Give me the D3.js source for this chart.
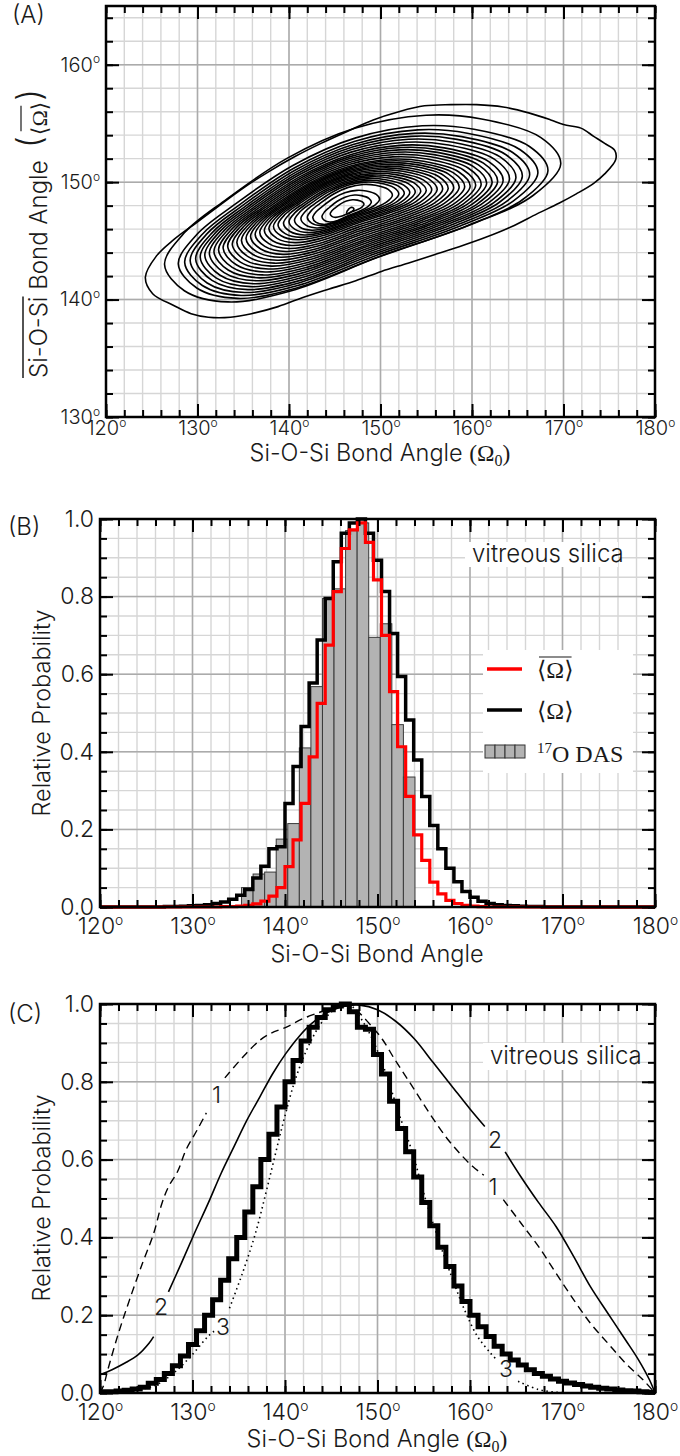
<!DOCTYPE html>
<html>
<head>
<meta charset="utf-8">
<script src="https://cdn.jsdelivr.net/npm/d3@7/dist/d3.min.js"></script>
<style>
  body { margin: 0; background: #fff; }
  svg text { font-family: Inter, 'Liberation Sans', sans-serif; font-weight: 300; fill: #1a1a1a; }
  svg .serif { font-family: 'Liberation Serif', 'DejaVu Serif', serif; font-weight: 400; }
</style>
</head>
<body>
<svg id="chart" width="680" height="1456"></svg>
<script>
'use strict';
// ---- values ----
const angleTicks = [120, 130, 140, 150, 160, 170, 180]
const angleMinorTicks = d3.range(120, 181, 2)
const bondTicks = [130, 140, 150, 160]
const bondMinorTicks = d3.range(130, 165, 2)
const probTicks = [0, 0.2, 0.4, 0.6, 0.8, 1.0]
const probMinorTicks = d3.range(0, 1.001, 0.05)

// panel A: outermost contour, [Omega0, mean Omega] in degrees
const outerContour = [[124.3,141.9],[125.1,140.5],[127.4,139.5],[129.3,138.8],[131.2,138.5],[133.6,138.5],
  [135.9,138.8],[138.8,139.4],[141.6,140.2],[144.4,140.9],[147.3,141.6],[150.1,142.4],[153.0,143.1],
  [155.8,143.8],[158.6,144.5],[161.5,145.3],[164.3,146.2],[167.1,147.3],[169.5,148.2],[171.4,149.0],
  [173.3,149.9],[174.5,150.7],[175.7,151.9],[175.6,152.7],[174.5,153.3],[173.3,153.9],[171.9,154.6],
  [170.0,154.9],[168.6,155.3],[166.2,155.9],[163.4,156.4],[160.5,156.6],[157.7,156.6],[154.8,156.5],
  [152.0,156.0],[149.2,155.3],[146.3,154.3],[143.5,153.3],[140.7,152.2],[137.8,150.9],[135.0,149.5],
  [132.2,147.9],[129.8,146.5],[127.4,145.1],[125.5,143.7]]
// inner contours: [left, right, bottom, top] extents, outer -> inner
const ringExtents = [
  [126.4,169.7,139.8,155.7],[127.9,168.3,140.1,154.8],[128.6,167.2,140.35,154.45],[129.2,166.3,140.6,154.15],
  [129.8,165.5,140.85,153.9],[130.3,164.8,141.1,153.65],[130.8,164.1,141.35,153.4],[131.3,163.4,141.6,153.15],
  [131.8,162.8,141.85,152.95],[132.3,162.2,142.1,152.75],[132.8,161.6,142.35,152.55],[133.3,161.0,142.6,152.35],
  [133.8,160.4,142.85,152.15],[134.3,159.8,143.1,151.95],[134.8,159.2,143.35,151.8],[135.3,158.6,143.6,151.65],
  [135.8,158.0,143.85,151.5],[136.3,157.4,144.1,151.35],[136.8,156.8,144.35,151.2],[137.3,156.2,144.6,151.05],
  [137.8,155.6,144.85,150.9],[138.3,155.0,145.1,150.75],[138.8,154.4,145.3,150.6],[139.4,153.8,145.5,150.45],
  [140.0,153.2,145.7,150.3],[140.6,152.6,145.9,150.15],[141.3,152.0,146.1,150.0],[142.0,151.3,146.3,149.8],
  [142.6,149.9,146.4,149.3],[143.6,149.0,146.6,148.9],[144.5,148.2,147.0,148.5],[146.3,147.1,147.3,147.85]]
// common contour outline, as fractions of each ring's extents
const ringShape = [[0,0.2],[0.05,0.06],[0.16,0],[0.32,0.06],[0.54,0.24],[0.78,0.42],[0.93,0.57],[1,0.74],
  [0.95,0.88],[0.8,0.98],[0.66,1],[0.48,0.93],[0.31,0.77],[0.15,0.54],[0.05,0.37]]

// panels B and C: 69 equal bins spanning 120-180 deg
const meanOmegaBar = [0,0,0,0,0,0,0,0,0,0,0,0,0,0,0,0.001,0.001,0.002,0.004,0.008,0.015,0.028,0.05,0.104,
  0.173,0.267,0.387,0.525,0.675,0.813,0.924,0.972,0.99,0.94,0.843,0.70,0.555,0.413,0.285,0.186,0.12,0.064,
  0.034,0.017,0.009,0.004,0.002,0.001,0,0,0,0,0,0,0,0,0,0,0,0,0,0,0,0,0,0,0,0,0]
const meanOmega = [0,0,0,0,0,0,0,0,0.001,0.001,0.002,0.003,0.004,0.006,0.009,0.013,0.02,0.03,0.045,0.075,
  0.105,0.15,0.155,0.267,0.362,0.465,0.577,0.688,0.795,0.89,0.963,0.99,1.0,0.963,0.894,0.813,0.705,0.594,
  0.482,0.379,0.285,0.21,0.15,0.1,0.065,0.04,0.025,0.015,0.009,0.006,0.004,0.003,0.002,0.001,0.001,
  0,0,0,0,0,0,0,0,0,0,0,0,0,0]
const dasEdges = [135.3,136.55,137.8,139.05,140.3,141.55,142.8,144.05,145.3,146.55,147.8,149.05,150.3,151.55,152.8,154.05]
const dasValues = [0.05,0.085,0.09,0.175,0.215,0.41,0.568,0.795,0.82,0.97,0.99,0.695,0.73,0.47,0.335]
const omega0 = [0.003,0.003,0.005,0.007,0.01,0.015,0.025,0.035,0.05,0.07,0.095,0.125,0.16,0.2,0.24,0.29,
  0.345,0.4,0.465,0.53,0.6,0.665,0.735,0.8,0.855,0.905,0.94,0.965,0.985,0.995,1.0,0.98,0.94,0.935,0.87,
  0.82,0.75,0.68,0.62,0.555,0.49,0.43,0.375,0.325,0.275,0.235,0.2,0.17,0.145,0.12,0.1,0.085,0.072,0.06,
  0.05,0.043,0.036,0.03,0.026,0.022,0.018,0.015,0.012,0.01,0.008,0.006,0.005,0.003,0.002]

// panel C model curves, null = gap left for the curve label
const curve1 = [[120,0],[120.4,0.02],[120.85,0.06],[122.0,0.154],[123.2,0.24],[124.6,0.334],[125.8,0.41],
  [126.7,0.488],[127.4,0.53],[128.4,0.57],[129.3,0.625],[130.5,0.676],[131.5,0.72],null,[133.5,0.81],
  [135.5,0.865],[137.3,0.907],[138.5,0.925],[140.1,0.94],[142,0.963],[143.9,0.98],[145.3,0.993],[146.2,0.997],
  [147.6,0.985],[149.1,0.95],[150.5,0.91],[151.9,0.856],[153.3,0.805],[154.7,0.753],[156.1,0.702],
  [157.5,0.655],[158.9,0.616],[160.3,0.582],[161.5,0.56],null,[163.6,0.497],[165.5,0.437],[167.4,0.377],
  [169.3,0.308],[171.2,0.24],[173.0,0.18],[174.9,0.128],[176.8,0.077],[178.7,0.034],[180,0]]
const curve2 = [[120,0.047],[121.3,0.06],[122.7,0.077],[124.1,0.098],[125.3,0.128],[125.8,0.145],null,
  [127.4,0.26],[128.8,0.334],[130.2,0.41],[131.7,0.488],[133.1,0.565],[134.5,0.634],[135.9,0.702],
  [137.3,0.762],[138.7,0.822],[140.1,0.873],[141.5,0.916],[142.9,0.95],[144.4,0.976],[146.2,0.993],
  [148.1,0.997],[150,0.985],[152,0.955],[154,0.91],[156,0.85],[158,0.79],[160,0.73],[161.6,0.685],null,
  [163.8,0.62],[165.5,0.556],[167.4,0.49],[169.3,0.428],[171.2,0.351],[173,0.274],[174.9,0.205],
  [176.8,0.137],[178.2,0.086],[179.4,0.034],[180,0]]
const curve3 = [[120,0],[122,0.001],[123.2,0.004],[126,0.02],[127.9,0.05],[129.8,0.094],[131.7,0.146],
  [132.4,0.16],null,[134.0,0.218],[135.4,0.308],[136.8,0.41],[138.2,0.54],[139.7,0.685],[141.1,0.805],
  [142.5,0.89],[143.9,0.95],[145.3,0.985],[146.5,1.0],[147.2,0.995],[148.1,0.967],[149.5,0.907],
  [150.9,0.822],[152.3,0.719],[153.8,0.616],[155.2,0.497],[156.6,0.394],[158,0.3],[159.4,0.214],
  [160.8,0.146],[162.2,0.103],[162.9,0.085],null,[165.2,0.03],[167.4,0.009],[169.3,0.002],[171.2,0],[173,0]]
const curveLabels = [
  { text: '1', a: 132.6, p: 0.745 }, { text: '2', a: 126.6, p: 0.2 }, { text: '3', a: 133.3, p: 0.15 },
  { text: '1', a: 162.5, p: 0.51 }, { text: '2', a: 162.7, p: 0.63 }, { text: '3', a: 163.9, p: 0.04 }]

// ---- layout ----
const svg = d3.select('#chart')
const xA = d3.scaleLinear().domain([120, 180]).range([106, 655])
const yA = d3.scaleLinear().domain([130, 165]).range([417, 6])
const xB = d3.scaleLinear().domain([120, 180]).range([100, 655])
const yB = d3.scaleLinear().domain([0, 1]).range([907, 519])
const xC = d3.scaleLinear().domain([120, 180]).range([100, 655])
const yC = d3.scaleLinear().domain([0, 1]).range([1393, 1004])

function drawGrid(x, y, xMinor, xMajor, yMinor, yMajor) {
  const g = svg.append('g')
  const [x0, x1] = x.range(), [y0, y1] = y.range()
  const vline = (data, color, w) => g.append('g').selectAll('line').data(data).join('line')
    .attr('x1', d => x(d)).attr('x2', d => x(d)).attr('y1', y0).attr('y2', y1)
    .attr('stroke', color).attr('stroke-width', w)
  const hline = (data, color, w) => g.append('g').selectAll('line').data(data).join('line')
    .attr('y1', d => y(d)).attr('y2', d => y(d)).attr('x1', x0).attr('x2', x1)
    .attr('stroke', color).attr('stroke-width', w)
  vline(xMinor, '#d6d6d6', 1.4)
  hline(yMinor, '#d6d6d6', 1.4)
  vline(xMajor, '#ababab', 1.5)
  hline(yMajor, '#ababab', 1.5)
}

function addDegree(sel, fs) {
  sel.selectAll('.tick text').append('tspan')
    .attr('dy', -0.42 * fs).attr('font-size', fs * 0.6).text('o')
}

function drawAxes(x, y, xMinor, xMajor, yMinor, yMajor, fs, yFormat, yDeg, padBottom) {
  const [x0, x1] = x.range(), [y0, y1] = y.range()
  const g = svg.append('g')
  const style = a => a.call(s => s.select('.domain').remove())
    .call(s => s.selectAll('line').attr('stroke', '#000').attr('stroke-width', 2))
    .attr('font-size', fs).attr('font-family', null)
  g.append('g').attr('transform', `translate(0,${y0})`).call(d3.axisBottom(x).tickValues(xMinor).tickSize(-7).tickFormat('')).call(style)
  g.append('g').attr('transform', `translate(0,${y1})`).call(d3.axisTop(x).tickValues(xMinor).tickSize(-7).tickFormat('')).call(style)
  g.append('g').attr('transform', `translate(0,${y1})`).call(d3.axisTop(x).tickValues(xMajor).tickSize(-13).tickFormat('')).call(style)
  g.append('g').attr('transform', `translate(${x0},0)`).call(d3.axisLeft(y).tickValues(yMinor).tickSize(-7).tickFormat('')).call(style)
  g.append('g').attr('transform', `translate(${x1},0)`).call(d3.axisRight(y).tickValues(yMinor).tickSize(-7).tickFormat('')).call(style)
  g.append('g').attr('transform', `translate(${x1},0)`).call(d3.axisRight(y).tickValues(yMajor).tickSize(-13).tickFormat('')).call(style)
  const bottom = g.append('g').attr('transform', `translate(0,${y0})`)
    .call(d3.axisBottom(x).tickValues(xMajor).tickSize(-13).tickPadding(padBottom).tickFormat(d => d)).call(style)
  addDegree(bottom, fs)
  const left = g.append('g').attr('transform', `translate(${x0},0)`)
    .call(d3.axisLeft(y).tickValues(yMajor).tickSize(-13).tickPadding(6).tickFormat(yFormat)).call(style)
  if (yDeg) addDegree(left, fs)
  g.selectAll('.tick text').attr('fill', '#1a1a1a')
  g.append('rect').attr('x', x0).attr('y', y1).attr('width', x1 - x0).attr('height', y0 - y1)
    .attr('fill', 'none').attr('stroke', '#000').attr('stroke-width', 2.5)
}

function omegaTitle(x, y, fs, text, sub) {
  const t = svg.append('text').attr('x', x).attr('y', y).attr('text-anchor', 'middle').attr('font-size', fs)
  t.append('tspan').text(text)
  if (sub) {
    t.append('tspan').attr('class', 'serif').text('(\u03a9')
    t.append('tspan').attr('class', 'serif').attr('font-size', fs * 0.68).attr('dy', 5).text('0')
    t.append('tspan').attr('class', 'serif').attr('dy', -5).text(')')
  }
}

function panelLabel(text, x, y) {
  svg.append('text').attr('x', x).attr('y', y).attr('font-size', 24).text(text)
}

function yTitle(text, x, cy, fs) {
  svg.append('text').attr('transform', `translate(${x},${cy}) rotate(-90)`)
    .attr('text-anchor', 'middle').attr('font-size', fs).text(text)
}

function boxedLabel(text, x, y, box) {
  svg.append('rect').attr('x', box[0]).attr('y', box[1]).attr('width', box[2]).attr('height', box[3]).attr('fill', '#fff')
  svg.append('text').attr('x', x).attr('y', y).attr('font-size', 24).text(text)
}

// ---- panel A: contour map ----
drawGrid(xA, yA, angleMinorTicks, angleTicks, bondMinorTicks, bondTicks)
const contourLine = d3.line().x(d => xA(d[0])).y(d => yA(d[1])).curve(d3.curveCatmullRomClosed)
const contours = svg.append('g').attr('fill', 'none').attr('stroke', '#000').attr('stroke-width', 1.6)
contours.append('path').attr('d', contourLine(outerContour))
ringExtents.forEach(([l, r, b, t]) => {
  const su = d3.scaleLinear().domain([0, 1]).range([l, r])
  const sv = d3.scaleLinear().domain([0, 1]).range([b, t])
  contours.append('path').attr('d', contourLine(ringShape.map(([u, v]) => [su(u), sv(v)])))
})
drawAxes(xA, yA, angleMinorTicks, angleTicks, bondMinorTicks, bondTicks, 20, d => d, true, 4)
panelLabel('(A)', 12, 23)
omegaTitle(380, 461, 23.5, 'Si-O-Si Bond Angle ', true)

// rotated y title with overlines
const yt = svg.append('g').attr('transform', 'translate(47,378) rotate(-90)')
const ytText = yt.append('text').attr('font-size', 24).text('Si-O-Si Bond Angle')
const siLen = ytText.node().getSubStringLength(0, 7)
yt.append('line').attr('x1', 0).attr('x2', siLen).attr('y1', -24).attr('y2', -24).attr('stroke', '#1a1a1a').attr('stroke-width', 1.5)
const par = yt.append('g').attr('transform', 'translate(230,0)')
const p1 = par.append('text').attr('font-size', 34).attr('y', -6).text('(')
const w1 = p1.node().getComputedTextLength()
const om = par.append('text').attr('class', 'serif').attr('font-size', 22).attr('x', w1 + 1).text('\u27e8\u03a9\u27e9')
const wOm = om.node().getComputedTextLength()
par.append('line').attr('x1', w1 + 5).attr('x2', w1 + wOm - 3).attr('y1', -26).attr('y2', -26).attr('stroke', '#1a1a1a').attr('stroke-width', 1.2)
par.append('text').attr('font-size', 34).attr('y', -6).attr('x', w1 + wOm + 2).text(')')

// ---- panel B: histograms ----
const bins = d3.scaleLinear().domain([0, 69]).range([120, 180])
const stepData = values => values.map((v, i) => [bins(i), v]).concat([[180, values[values.length - 1]]])
drawGrid(xB, yB, angleMinorTicks, angleTicks, probMinorTicks, probTicks)
svg.append('g').selectAll('rect').data(dasValues).join('rect')
  .attr('x', (d, i) => xB(dasEdges[i])).attr('width', (d, i) => xB(dasEdges[i + 1]) - xB(dasEdges[i]))
  .attr('y', d => yB(d)).attr('height', d => yB(0) - yB(d))
  .attr('fill', '#b3b3b3').attr('stroke', '#3a3a3a').attr('stroke-width', 1)
const stepB = d3.line().x(d => xB(d[0])).y(d => yB(d[1])).curve(d3.curveStepAfter)
svg.append('path').attr('d', stepB(stepData(meanOmega))).attr('fill', 'none').attr('stroke', '#000').attr('stroke-width', 3.5)
svg.append('path').attr('d', stepB(stepData(meanOmegaBar))).attr('fill', 'none').attr('stroke', '#ff0000').attr('stroke-width', 3.2)
drawAxes(xB, yB, angleMinorTicks, angleTicks, probMinorTicks, probTicks, 23, d3.format('.1f'), false, 11)
panelLabel('(B)', 8, 535)
omegaTitle(377, 962, 23.5, 'Si-O-Si Bond Angle', false)
yTitle('Relative Probability', 50, 713, 23.5)
boxedLabel('vitreous silica', 472, 562, [465, 542, 153, 25])

// legend
const lg = svg.append('g')
lg.append('rect').attr('x', 483).attr('y', 650).attr('width', 150).attr('height', 123).attr('fill', '#fff')
lg.append('line').attr('x1', 487).attr('x2', 522).attr('y1', 669).attr('y2', 669).attr('stroke', '#ff0000').attr('stroke-width', 3.5)
lg.append('line').attr('x1', 487).attr('x2', 522).attr('y1', 710).attr('y2', 710).attr('stroke', '#000').attr('stroke-width', 3.5)
const sw = lg.append('g')
d3.range(4).forEach(i => sw.append('rect').attr('x', 485 + i * 10).attr('y', 745).attr('width', 10).attr('height', 13)
  .attr('fill', '#b3b3b3').attr('stroke', '#333').attr('stroke-width', 1))
const l1 = lg.append('text').attr('class', 'serif').attr('x', 537).attr('y', 678).attr('font-size', 24).text('\u27e8\u03a9\u27e9')
const l1w = l1.node().getComputedTextLength()
lg.append('line').attr('x1', 539).attr('x2', 537 + l1w - 2).attr('y1', 657).attr('y2', 657).attr('stroke', '#1a1a1a').attr('stroke-width', 1.2)
lg.append('text').attr('class', 'serif').attr('x', 537).attr('y', 719).attr('font-size', 24).text('\u27e8\u03a9\u27e9')
const l3 = lg.append('text').attr('class', 'serif').attr('x', 537).attr('y', 762).attr('font-size', 24)
l3.append('tspan').attr('font-size', 15).attr('dy', -9).text('17')
l3.append('tspan').attr('dy', 9).text('O DAS')

// ---- panel C: model curves ----
drawGrid(xC, yC, angleMinorTicks, angleTicks, probMinorTicks, probTicks)
const curveC = d3.line().defined(d => d !== null).x(d => xC(d[0])).y(d => yC(d[1])).curve(d3.curveCatmullRom)
svg.append('path').attr('d', curveC(curve1)).attr('fill', 'none').attr('stroke', '#000').attr('stroke-width', 1.4).attr('stroke-dasharray', '8,5')
svg.append('path').attr('d', curveC(curve2)).attr('fill', 'none').attr('stroke', '#000').attr('stroke-width', 1.6)
svg.append('path').attr('d', curveC(curve3)).attr('fill', 'none').attr('stroke', '#000').attr('stroke-width', 1.6).attr('stroke-dasharray', '1.5,3.5')
const stepC = d3.line().x(d => xC(d[0])).y(d => yC(d[1])).curve(d3.curveStepAfter)
svg.append('path').attr('d', stepC(stepData(omega0))).attr('fill', 'none').attr('stroke', '#000').attr('stroke-width', 5)
svg.append('g').selectAll('text').data(curveLabels).join('text')
  .attr('x', d => xC(d.a)).attr('y', d => yC(d.p)).attr('text-anchor', 'middle').attr('font-size', 23).text(d => d.text)
drawAxes(xC, yC, angleMinorTicks, angleTicks, probMinorTicks, probTicks, 23, d3.format('.1f'), false, 11)
panelLabel('(C)', 8, 1022)
omegaTitle(377, 1447, 23.5, 'Si-O-Si Bond Angle ', true)
yTitle('Relative Probability', 50, 1198, 23.5)
boxedLabel('vitreous silica', 490, 1064, [483, 1043, 152, 27])
</script>
</body>
</html>
